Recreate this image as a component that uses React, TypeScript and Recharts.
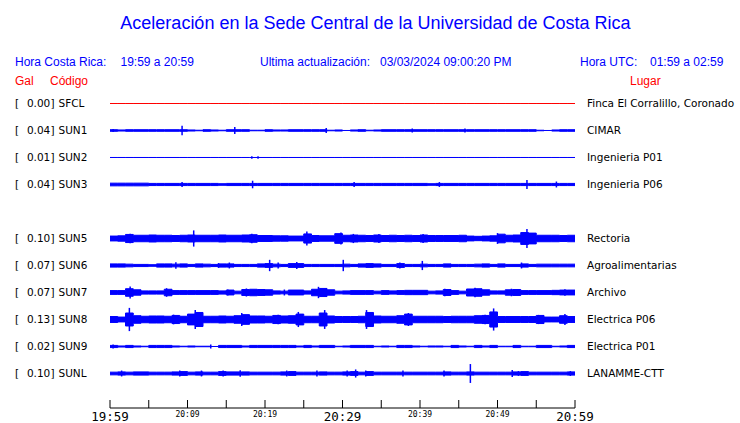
import React from 'react';
import { ComposedChart, Area, Scatter, ErrorBar, XAxis, YAxis } from 'recharts';

// estaciones (orden de arriba a abajo)
const codes = ['SFCL', 'SUN1', 'SUN2', 'SUN3', 'SUN5', 'SUN6', 'SUN7', 'SUN8', 'SUN9', 'SUNL'];
const gal = [0.0, 0.04, 0.01, 0.04, 0.1, 0.07, 0.07, 0.13, 0.02, 0.1];
const places = [
  'Finca El Corralillo, Coronado',
  'CIMAR',
  'Ingenieria P01',
  'Ingenieria P06',
  'Rectoria',
  'Agroalimentarias',
  'Archivo',
  'Electrica P06',
  'Electrica P01',
  'LANAMME-CTT',
];
// fila de cada estacion (la fila 4 queda vacia)
const slots = [0, 1, 2, 3, 5, 6, 7, 8, 9, 10];

// envolvente por minuto (media amplitud)
const sfclEnv = [0,0,0,0,0,0,0,0,0,0,0,0,0,0,0,0,0,0,0,0,0,0,0,0,0,0,0,0,0,0,0,0,0,0,0,0,0,0,0,0,0,0,0,0,0,0,0,0,0,0,0,0,0,0,0,0,0,0,0,0];
const sun1Env = [3,2,3,3,3,3,3,3,3,3,2,1,3,2,1,3,3,3,1,1,3,2,2,3,3,3,3,3,1,2,0,2,3,1,2,3,3,3,3,3,3,3,3,3,3,3,3,3,3,3,3,3,3,3,3,1,0,2,3,3];
const sun2Env = [0,0,0,0,0,0,0,0,0,0,0,0,0,0,0,0,0,0,0,0,0,0,0,0,0,0,0,0,0,0,0,0,0,0,0,0,0,0,0,0,0,0,0,0,0,0,0,0,0,0,0,0,0,0,0,0,0,0,0,0];
const sun3Env = [5,5,5,5,5,4,4,4,4,4,4,4,4,4,3,4,4,4,4,4,4,4,4,4,4,4,4,4,4,4,4,4,4,4,4,4,4,4,4,4,4,3,4,4,4,4,4,4,4,4,4,4,4,4,4,4,4,4,4,4];
const sun5Env = [9,10,15,12,12,13,12,12,11,12,13,12,12,12,13,12,12,13,14,11,11,10,10,9,9,17,11,10,10,18,12,13,12,11,13,11,12,11,12,11,13,11,11,11,11,12,9,8,9,10,16,12,13,22,20,12,12,12,11,12];
const sun6Env = [6,6,5,4,4,3,6,6,5,6,4,6,5,4,6,6,4,4,4,6,7,5,4,7,7,4,4,4,4,4,5,4,6,7,6,4,4,7,4,4,5,4,4,6,4,4,4,5,6,4,6,4,4,6,4,5,5,5,5,5];
const sun7Env = [7,7,14,10,6,6,6,12,7,7,7,7,7,7,6,9,5,11,12,11,10,6,5,9,9,6,12,15,10,5,6,7,7,7,5,7,6,7,8,8,8,5,6,11,7,5,13,14,10,6,6,10,11,7,7,7,7,8,9,9];
const sun8Env = [11,9,24,14,12,13,13,12,15,12,20,26,12,12,13,12,14,18,13,13,12,15,13,14,20,12,12,24,13,11,11,11,12,26,13,12,12,14,20,12,12,12,12,11,12,12,12,14,15,28,11,11,11,11,11,15,9,9,14,11];
const sun9Env = [4,2,4,2,1,4,4,4,2,1,2,1,1,0,4,4,4,2,4,4,4,4,4,4,2,4,2,4,4,1,2,4,4,4,1,2,1,4,4,2,1,2,2,1,4,2,1,4,2,4,1,1,4,1,1,4,4,1,2,4];
const sunlEnv = [5,6,5,6,6,5,5,5,6,7,5,6,5,5,7,6,6,6,5,5,5,5,6,7,5,5,5,6,5,5,6,7,5,7,5,5,5,5,5,5,5,5,5,6,5,5,6,5,5,5,5,5,6,7,5,5,5,5,5,6];
const envelopes = [sfclEnv, sun1Env, sun2Env, sun3Env, sun5Env, sun6Env, sun7Env, sun8Env, sun9Env, sunlEnv];

// picos aislados [minuto, amplitud]
const sfclSpikes: number[][] = [];
const sun1Spikes = [[0.4, 6], [9.3, 18], [16.1, 13], [27.9, 9], [39.0, 7], [45.8, 7]];
const sun2Spikes = [[18.3, 5], [19.1, 5]];
const sun3Spikes = [[9.3, 9], [18.4, 14], [31.5, 9], [42.5, 9], [53.8, 17], [57.6, 11]];
const sun5Spikes = [[2.6, 18], [10.8, 30], [18.3, 18], [25.4, 26], [29.8, 22], [31.4, 17], [34.7, 17], [40.4, 17], [50.0, 20], [53.8, 35]];
const sun6Spikes = [[8.5, 12], [14.0, 9], [15.4, 11], [20.6, 21], [21.7, 11], [24.1, 13], [30.1, 21], [37.4, 11], [40.3, 17], [53.1, 11]];
const sun7Spikes = [[2.6, 22], [7.3, 16], [15.2, 11], [17.6, 15], [22.5, 11], [26.9, 21], [43.2, 14], [47.1, 18], [51.8, 14], [58.7, 12]];
const sun8Spikes = [[2.5, 43], [8.2, 18], [11.0, 35], [17.0, 24], [21.7, 18], [24.3, 28], [27.7, 35], [33.1, 35], [38.5, 24], [48.4, 18], [49.5, 41], [55.3, 17], [58.7, 20]];
const sun9Spikes = [[0.4, 7], [13.0, 7]];
const sunlSpikes = [[1.5, 11], [9.0, 11], [11.8, 11], [14.6, 11], [16.8, 12], [22.8, 11], [26.7, 11], [30.6, 11], [31.7, 15], [33.0, 11], [37.8, 11], [43.1, 11], [46.5, 35], [51.9, 13], [52.7, 9], [59.4, 9]];
const spikes = [sfclSpikes, sun1Spikes, sun2Spikes, sun3Spikes, sun5Spikes, sun6Spikes, sun7Spikes, sun8Spikes, sun9Spikes, sunlSpikes];

// eje de tiempo (minutos desde 19:59)
const tickMinutes = [0, 5, 10, 15, 20, 25, 30, 35, 40, 45, 50, 55, 60];
const tickLabels = ['19:59', '', '20:09', '', '20:19', '', '20:29', '', '20:39', '', '20:49', '', '20:59'];
const bigTicks = ['19:59', '20:29', '20:59'];

const ROW = 100;
const TOP_SLOT = 10;
const Y_DOMAIN = [-127.8, 1050];
const offsetOf = (k: number) => (TOP_SLOT - slots[k]) * ROW;
const offsets = codes.map((_, k) => offsetOf(k));

const chartData = Array.from({ length: 61 }, (_, i) => {
  const row: any = { x: i };
  codes.forEach((c, k) => {
    const a = envelopes[k][Math.min(i, 59)];
    row[c] = [offsetOf(k) - a, offsetOf(k) + a];
  });
  return row;
});

const spikeData = spikes.flatMap((list, k) =>
  list.map(([m, a]) => ({ x: m, y: offsetOf(k), err: a }))
);

const BLUE = '#0000ff';
const RED = '#ff0000';

const LeftTick = (props: any) => {
  const k = offsets.indexOf(props.payload.value);
  if (k < 0) return null;
  return (
    <g fontFamily="DejaVu Sans" fontSize={10.5} fill="#000">
      <text x={15} y={props.y} dy="0.35em">[</text>
      <text x={50.3} y={props.y} dy="0.35em" textAnchor="end">{gal[k].toFixed(2)}</text>
      <text x={50.6} y={props.y} dy="0.35em">]</text>
      <text x={58.5} y={props.y} dy="0.35em">{codes[k]}</text>
    </g>
  );
};

const RightTick = (props: any) => {
  const k = offsets.indexOf(props.payload.value);
  if (k < 0) return null;
  return (
    <text x={587} y={props.y} dy="0.35em" fontFamily="DejaVu Sans" fontSize={10.5} fill="#000">
      {places[k]}
    </text>
  );
};

const TimeTick = (props: any) => {
  const { x, y, index } = props;
  const label = tickLabels[index];
  const big = bigTicks.includes(label);
  return (
    <g>
      <line x1={x} y1={y - 8} x2={x} y2={y} stroke="#000" />
      {label && (
        <text
          x={x}
          y={big ? y + 12.5 : y + 8.7}
          textAnchor="middle"
          fontFamily="DejaVu Sans Mono"
          fontSize={big ? 12.5 : 8}
          fill="#000"
        >
          {label}
        </text>
      )}
    </g>
  );
};

const Header = () => (
  <svg width={740} height={95} style={{ position: 'absolute', left: 0, top: 0, pointerEvents: 'none' }}>
    <g fontFamily="Liberation Sans, Arial, sans-serif">
      <text x={375.5} y={29} textAnchor="middle" fontSize={18} fill={BLUE}>
        Aceleración en la Sede Central de la Universidad de Costa Rica
      </text>
      <g fontSize={12} fill={BLUE}>
        <text x={15} y={65.5}>Hora Costa Rica:</text>
        <text x={120.5} y={65.5}>19:59 a 20:59</text>
        <text x={260} y={65.5}>Ultima actualización:</text>
        <text x={380} y={65.5}>03/03/2024 09:00:20 PM</text>
        <text x={580} y={65.5}>Hora UTC:</text>
        <text x={650} y={65.5}>01:59 a 02:59</text>
      </g>
      <g fontSize={12} fill={RED}>
        <text x={15} y={84.5}>Gal</text>
        <text x={50} y={84.5}>Código</text>
        <text x={630} y={84.5}>Lugar</text>
      </g>
    </g>
  </svg>
);

export default function App() {
  return (
    <div style={{ position: 'relative', width: 740, height: 423, background: '#fff' }}>
      <style>{'body{margin:0}'}</style>
      <ComposedChart width={740} height={423} data={chartData} margin={{ top: 90, right: 0, bottom: 0, left: 0 }}>
        <XAxis
          dataKey="x"
          type="number"
          domain={[0, 60]}
          ticks={tickMinutes}
          interval={0}
          height={15}
          tickSize={0}
          tickMargin={0}
          tickLine={false}
          stroke="#000"
          tick={<TimeTick />}
        />
        <YAxis
          yAxisId="l"
          type="number"
          domain={Y_DOMAIN}
          allowDataOverflow
          ticks={offsets}
          interval={0}
          width={110}
          axisLine={false}
          tickLine={false}
          tick={<LeftTick />}
        />
        <YAxis
          yAxisId="r"
          orientation="right"
          type="number"
          domain={Y_DOMAIN}
          allowDataOverflow
          ticks={offsets}
          interval={0}
          width={165}
          axisLine={false}
          tickLine={false}
          tick={<RightTick />}
        />
        {codes.map((c, k) => (
          <Area
            key={c}
            yAxisId="l"
            dataKey={c}
            type="stepAfter"
            stroke={k === 0 ? RED : BLUE}
            strokeWidth={1}
            fill={k === 0 ? RED : BLUE}
            fillOpacity={1}
            dot={false}
            activeDot={false}
            isAnimationActive={false}
          />
        ))}
        <Scatter yAxisId="l" data={spikeData} dataKey="y" shape={() => <g />} isAnimationActive={false}>
          <ErrorBar dataKey="err" direction="y" width={0} stroke={BLUE} strokeWidth={1.5} isAnimationActive={false} />
        </Scatter>
      </ComposedChart>
      <Header />
    </div>
  );
}
